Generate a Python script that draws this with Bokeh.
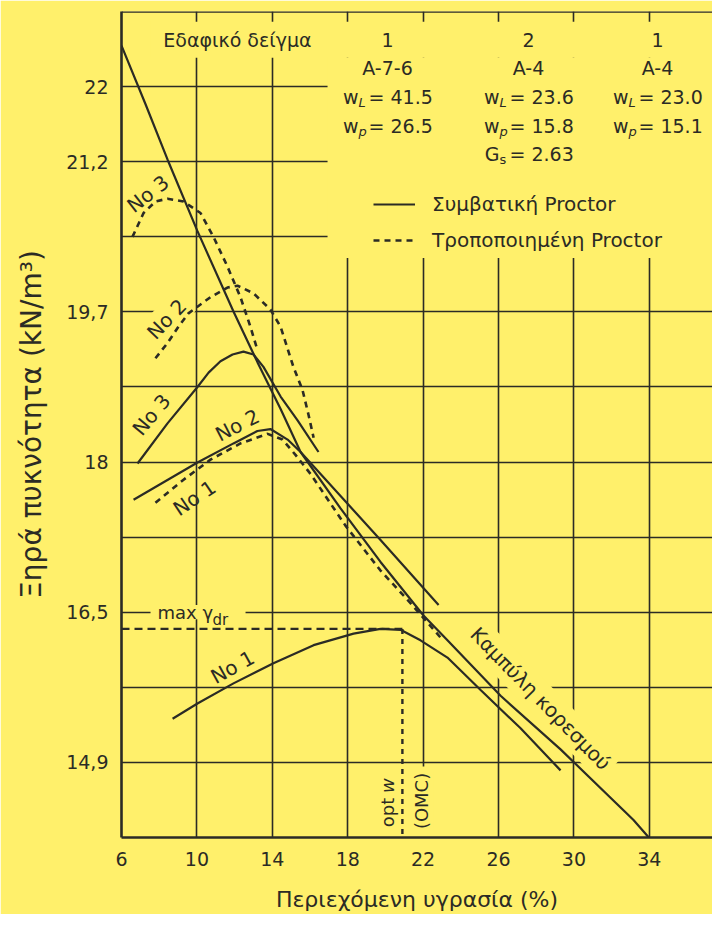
from bokeh.plotting import figure
from bokeh.models import FixedTicker, Span, Legend, LegendItem
from bokeh.core.properties import value
from bokeh.embed import file_html
from bokeh.resources import INLINE

PCF = 0.157087  # kN/m3 per lb/ft3 (grid of the original chart is every 5 lb/ft3)

# ---------------- data: w (%), dry unit weight (kN/m3)
zav_w = [6.0, 7.27, 8.44, 10.03, 11.94, 13.21, 14.44, 15.50, 17.62, 19.74, 22.02, 23.29, 26.11, 29.29, 33.16, 33.96]
zav_g = [22.42, 21.81, 21.23, 20.48, 19.64, 19.11, 18.62, 18.17, 17.58, 17.02, 16.46, 16.20, 15.62, 15.06, 14.32, 14.14]

no3_w = [6.85, 8.44, 10.03, 10.62, 11.25, 11.89, 12.47, 13.00, 13.53, 14.44, 15.34, 16.45]
no3_g = [18.05, 18.47, 18.85, 19.00, 19.12, 19.19, 19.22, 19.19, 19.06, 18.75, 18.50, 18.17]

no2_w = [6.64, 10.03, 11.94, 13.21, 13.90, 14.81, 15.50, 17.62, 19.74, 22.82]
no2_g = [17.67, 18.06, 18.26, 18.39, 18.41, 18.30, 18.17, 17.71, 17.25, 16.57]

no1_w = [8.71, 10.03, 11.94, 14.06, 16.19, 18.31, 19.74, 20.80, 21.86, 23.29, 25.05, 27.17, 29.29]
no1_g = [15.38, 15.54, 15.75, 15.96, 16.15, 16.27, 16.32, 16.31, 16.20, 16.02, 15.68, 15.28, 14.84]

mod3_w = [6.58, 7.17, 7.80, 8.44, 9.29, 10.19, 10.88, 11.62, 12.31, 12.84, 13.16]
mod3_g = [20.42, 20.67, 20.79, 20.82, 20.79, 20.67, 20.42, 20.11, 19.79, 19.48, 19.27]

mod2_w = [7.80, 8.44, 9.02, 9.55, 10.03, 10.72, 11.62, 12.15, 13.00, 13.90, 14.44, 15.12, 15.60, 15.92, 16.19]
mod2_g = [19.15, 19.31, 19.48, 19.62, 19.69, 19.79, 19.89, 19.91, 19.83, 19.66, 19.48, 19.06, 18.82, 18.56, 18.32]

mod1_w = [7.80, 9.29, 10.72, 12.31, 13.75, 14.54, 15.23, 16.03, 17.88, 19.74, 21.33, 22.92]
mod1_g = [17.64, 17.88, 18.09, 18.26, 18.36, 18.30, 18.14, 17.94, 17.40, 16.93, 16.59, 16.23]

opt_w = 20.9        # optimum moisture content of sample No 1 (%)
max_gdr = 16.32     # max dry unit weight of sample No 1 (kN/m3)

x_ticks = [6, 10, 14, 18, 22, 26, 30, 34]
x_grid = [10, 14, 18, 22, 26, 30, 34]
y_tick_pcf = [140, 135, 125, 115, 105, 95]
y_tick_labels = ["22", "21,2", "19,7", "18", "16,5", "14,9"]
y_grid_pcf = [95, 100, 105, 110, 115, 120, 125, 130, 135, 140]

soil_no = ["1", "2", "1"]
soil_class = ["A-7-6", "A-4", "A-4"]
soil_wl = ["41.5", "23.6", "23.0"]
soil_wp = ["26.5", "15.8", "15.1"]
soil_gs = ["", "2.63", ""]

# ---------------- styling
YEL = "#FFF06B"
INK = "#2b2b25"
FONT = "DejaVu Sans"

y_lo, y_hi = 90 * PCF, 145 * PCF
p = figure(width=712, height=914, x_range=(6, 37.35), y_range=(y_lo, y_hi),
           output_backend="svg", toolbar_location=None,
           min_border_left=121, min_border_right=0, min_border_top=11, min_border_bottom=77,
           background_fill_color=YEL, border_fill_color=YEL)
p.outline_line_color = None

# axes
y_pos = [v * PCF for v in y_tick_pcf]
p.xaxis.ticker = FixedTicker(ticks=x_ticks)
p.yaxis.ticker = FixedTicker(ticks=y_pos)
p.yaxis.major_label_overrides = {pos: lab for pos, lab in zip(y_pos, y_tick_labels)}
for ax in (p.xaxis[0], p.yaxis[0]):
    ax.axis_line_color = INK
    ax.axis_line_width = 2.6
    ax.major_tick_line_color = None
    ax.minor_tick_line_color = None
    ax.major_label_text_font = FONT
    ax.major_label_text_font_size = "19px"
    ax.major_label_text_color = INK
    ax.axis_label_text_font = FONT
    ax.axis_label_text_font_style = "normal"
    ax.axis_label_text_color = INK
p.xaxis.major_label_standoff = 8
p.yaxis.major_label_standoff = 7
p.xaxis.axis_label = "Περιεχόμενη υγρασία (%)"
p.xaxis.axis_label_text_font_size = "22px"
p.xaxis.axis_label_standoff = 18
p.yaxis.axis_label = "Ξηρά πυκνότητα (kN/m³)"
p.yaxis.axis_label_text_font_size = "28px"
p.yaxis.axis_label_standoff = 15

p.xgrid.ticker = FixedTicker(ticks=x_grid)
p.ygrid.ticker = FixedTicker(ticks=[v * PCF for v in y_grid_pcf])
for g in (p.xgrid[0], p.ygrid[0]):
    g.grid_line_color = INK
    g.grid_line_width = 1.6
    g.grid_line_alpha = 1.0

p.add_layout(Span(location=y_hi, dimension="width", line_color=INK, line_width=2.6))

# yellow boxes that interrupt the grid behind the table and the max label
p.quad(left=[7.54, 16.93, 7.54, 21.85], right=[37.51, 37.51, 12.58, 22.25],
       bottom=[22.295, 20.20, 16.42, y_lo], top=[22.67, 22.295, 16.57, 14.88],
       fill_color=YEL, line_color=None)


def txt(x, y, s, size=19, angle=0, align="center", baseline="middle", style="normal",
        xo=0, yo=0, bg=False, pad=2):
    kw = {}
    if bg:
        kw = dict(background_fill_color=YEL, padding=pad)
    p.text(x=[x], y=[y], text=[s], text_font=value(FONT), text_font_size=f"{size}px",
           text_color=INK, angle=angle, angle_units="deg", text_align=align,
           text_baseline=baseline, text_font_style=style, x_offset=xo, y_offset=yo, **kw)


# labels with a yellow background (they hide the grid)
txt(28.23, 15.59, "Καμπύλη κορεσμού", size=20, angle=-45.6, bg=True, pad=4)
txt(8.40, 19.56, "No 2", size=20, angle=46, bg=True, pad=3)

# curves
SOL = dict(line_color=INK, line_width=2.2)
DSH = dict(line_color=INK, line_width=2.6, line_dash="6 5")
p.line(zav_w, zav_g, **SOL)
p.line(no3_w, no3_g, **SOL)
p.line(no2_w, no2_g, **SOL)
r_sol = p.line(no1_w, no1_g, **SOL)
p.line(mod3_w, mod3_g, **DSH)
p.line(mod2_w, mod2_g, **DSH)
r_dsh = p.line(mod1_w, mod1_g, **DSH)
p.line([x_ticks[0], opt_w], [max_gdr, max_gdr], line_color=INK, line_width=2.4, line_dash="8 5")
p.line([opt_w, opt_w], [max_gdr, y_lo], line_color=INK, line_width=2.4, line_dash="5 5")

# curve labels
txt(7.59, 18.56, "No 3", size=20, angle=50)
txt(12.15, 18.45, "No 2", size=20, angle=27)
txt(9.87, 17.69, "No 1", size=20, angle=34)
txt(7.40, 20.87, "No 3", size=20, angle=38)
txt(11.89, 15.92, "No 1", size=20, angle=29)
txt(7.91, 16.49, "max γ", size=18, align="left")
txt(10.83, 16.41, "dr", size=15, align="left")
txt(20.11, 14.40, "opt", size=18, angle=90)
txt(20.11, 14.68, "w", size=18, angle=90, style="italic")
txt(21.90, 14.52, "(OMC)", size=18, angle=90, bg=True, pad=2)

# table of soil samples
cols = [20.11, 27.59, 34.43]
rows = [22.484, 22.19, 21.887, 21.583, 21.29]
txt(12.15, rows[0], "Εδαφικό δείγμα")
for c, n, cl, wl, wp, gs in zip(cols, soil_no, soil_class, soil_wl, soil_wp, soil_gs):
    txt(c, rows[0], n)
    txt(c, rows[1], cl)
    txt(c, rows[2], "w", align="right", xo=-29)
    txt(c, rows[2], "L", size=13, align="left", style="italic", xo=-29, yo=6)
    txt(c, rows[2], "= " + wl, align="left", xo=-19)
    txt(c, rows[3], "w", align="right", xo=-29)
    txt(c, rows[3], "p", size=13, align="left", style="italic", xo=-29, yo=6)
    txt(c, rows[3], "= " + wp, align="left", xo=-19)
    if gs:
        txt(c, rows[4], "G", align="right", xo=-29)
        txt(c, rows[4], "s", size=13, align="left", xo=-29, yo=6)
        txt(c, rows[4], "= " + gs, align="left", xo=-19)

legend = Legend(items=[LegendItem(label="Συμβατική Proctor", renderers=[r_sol]),
                       LegendItem(label="Τροποποιημένη Proctor", renderers=[r_dsh])],
                location=(252, 585), orientation="vertical", glyph_width=42, glyph_height=20,
                label_height=20, label_standoff=17, spacing=12, padding=0, margin=0,
                background_fill_alpha=0, border_line_color=None,
                label_text_font=FONT, label_text_font_size="20px", label_text_color=INK)
p.add_layout(legend)

open("out.html", "w").write(file_html(p, INLINE))
